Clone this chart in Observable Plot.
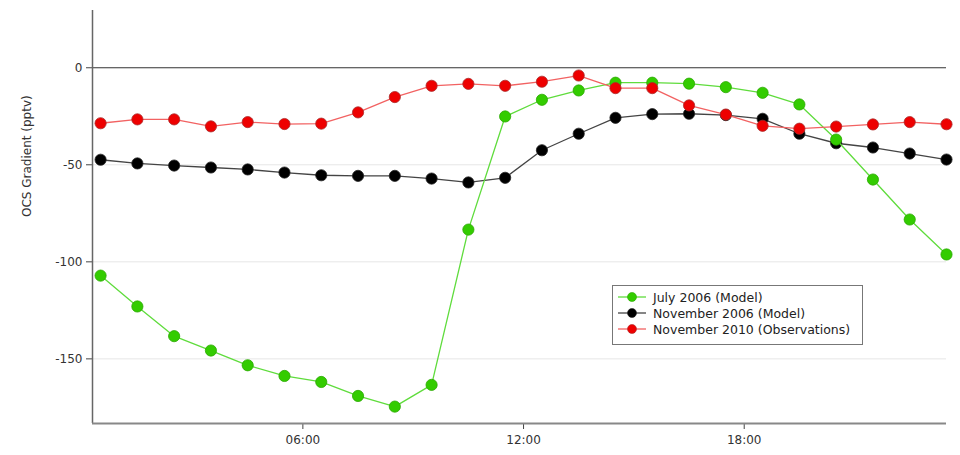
<!DOCTYPE html>
<html>
<head>
<meta charset="utf-8">
<script src="https://cdn.jsdelivr.net/npm/d3@7"></script>
<script src="https://cdn.jsdelivr.net/npm/@observablehq/plot@0.6"></script>
<style>
  html, body { margin: 0; padding: 0; background: #fff; }
  #wrap { position: relative; width: 960px; height: 455px; font-family: "DejaVu Sans", sans-serif; }
  #legend { position: absolute; left: 612px; top: 285px; width: 251px; height: 60px;
            border: 1.5px solid #777; background: #fff; box-sizing: border-box;
            padding: 3px 0 0 4px; font-size: 12.5px; color: #222; }
  #legend .row { display: flex; align-items: center; height: 16px; }
  #legend svg { margin-right: 6px; }
</style>
</head>
<body>
<div id="wrap"></div>
<script>
const hours = [0.5,1.5,2.5,3.5,4.5,5.5,6.5,7.5,8.5,9.5,10.5,11.5,12.5,13.5,14.5,15.5,16.5,17.5,18.5,19.5,20.5,21.5,22.5,23.5];
const july2006 = [-107.1,-123.0,-138.3,-145.7,-153.3,-158.8,-161.9,-169.1,-174.6,-163.4,-83.4,-25.1,-16.5,-11.7,-7.7,-7.7,-8.2,-10.0,-12.9,-18.9,-37.0,-57.6,-78.2,-96.2];
const nov2006 = [-47.4,-49.3,-50.4,-51.4,-52.4,-54.0,-55.4,-55.7,-55.7,-57.1,-59.1,-56.7,-42.5,-34.0,-25.8,-23.9,-23.7,-24.4,-26.3,-34.0,-38.9,-41.1,-44.2,-47.3];
const nov2010 = [-28.6,-26.6,-26.6,-30.2,-28.0,-29.0,-28.8,-23.0,-15.1,-9.3,-8.3,-9.3,-7.2,-4.0,-10.5,-10.5,-19.4,-24.1,-29.9,-31.4,-30.3,-29.2,-28.0,-29.1];
const seriesNames = ["July 2006 (Model)", "November 2006 (Model)", "November 2010 (Observations)"];
const xTicks = [6, 12, 18];
const xTickLabels = ["06:00", "12:00", "18:00"];
const yTicks = [0, -50, -100, -150];
const yTickLabels = ["0", "-50", "-100", "-150"];
const xDomain = [0.28, 23.5];
const yDomain = [-183.3, 29.5];

const mk = (vals, name) => hours.map((h, i) => ({hour: h, value: vals[i], series: name}));
const dJul = mk(july2006, seriesNames[0]);
const dN06 = mk(nov2006, seriesNames[1]);
const dN10 = mk(nov2010, seriesNames[2]);

const styles = {
  [seriesNames[0]]: {line: "#5fdc3c", fill: "#33cc00", stroke: "#2aa800"},
  [seriesNames[1]]: {line: "#444444", fill: "#000000", stroke: "#222222"},
  [seriesNames[2]]: {line: "#f26262", fill: "#ee0000", stroke: "#aa2a2a"}
};

function series(data, name) {
  const s = styles[name];
  return [
    Plot.line(data, {x: "hour", y: "value", stroke: s.line, strokeWidth: 1.3}),
    Plot.dot(data, {x: "hour", y: "value", r: 5.6, fill: s.fill, stroke: s.stroke, strokeWidth: 0.8})
  ];
}

const chart = Plot.plot({
  width: 960,
  height: 455,
  marginLeft: 92,
  marginRight: 14,
  marginTop: 10,
  marginBottom: 32,
  style: {fontFamily: "DejaVu Sans, sans-serif", fontSize: "12px", color: "#333", background: "#fff"},
  x: {domain: xDomain, label: null},
  y: {domain: yDomain, label: null},
  marks: [
    Plot.gridY(yTicks.filter(d => d !== 0), {stroke: "#e6e6e6", strokeOpacity: 1, strokeWidth: 1}),
    Plot.ruleY([0], {stroke: "#333", strokeWidth: 1.2}),
    Plot.axisY({ticks: yTicks, tickFormat: (d) => yTickLabels[yTicks.indexOf(d)], tickSize: 6, tickPadding: 4, stroke: "#444", fill: "#333", fontSize: 12, label: null}),
    Plot.axisX({ticks: xTicks, tickFormat: (d) => xTickLabels[xTicks.indexOf(d)], tickSize: 6, tickPadding: 6, stroke: "#444", fill: "#333", fontSize: 12, label: null}),
    Plot.ruleX([xDomain[0]], {stroke: "#666", strokeWidth: 1.5}),
    Plot.ruleY([yDomain[0]], {stroke: "#888", strokeWidth: 2}),
    Plot.text(["OCS Gradient (pptv)"], {frameAnchor: "left", dx: -65, rotate: -90, fontSize: 12, fill: "#333"}),
    ...series(dN06, seriesNames[1]),
    ...series(dJul, seriesNames[0]),
    ...series(dN10, seriesNames[2])
  ]
});

const wrap = document.getElementById("wrap");
wrap.appendChild(chart);

const legend = document.createElement("div");
legend.id = "legend";
for (const name of seriesNames) {
  const s = styles[name];
  const row = document.createElement("div");
  row.className = "row";
  row.innerHTML = `<svg width="30" height="12"><line x1="1" x2="29" y1="6" y2="6" stroke="${s.line}" stroke-width="1.3"/><circle cx="15" cy="6" r="4.5" fill="${s.fill}" stroke="${s.stroke}" stroke-width="0.6"/></svg><span>${name}</span>`;
  legend.appendChild(row);
}
wrap.appendChild(legend);
</script>
</body>
</html>
